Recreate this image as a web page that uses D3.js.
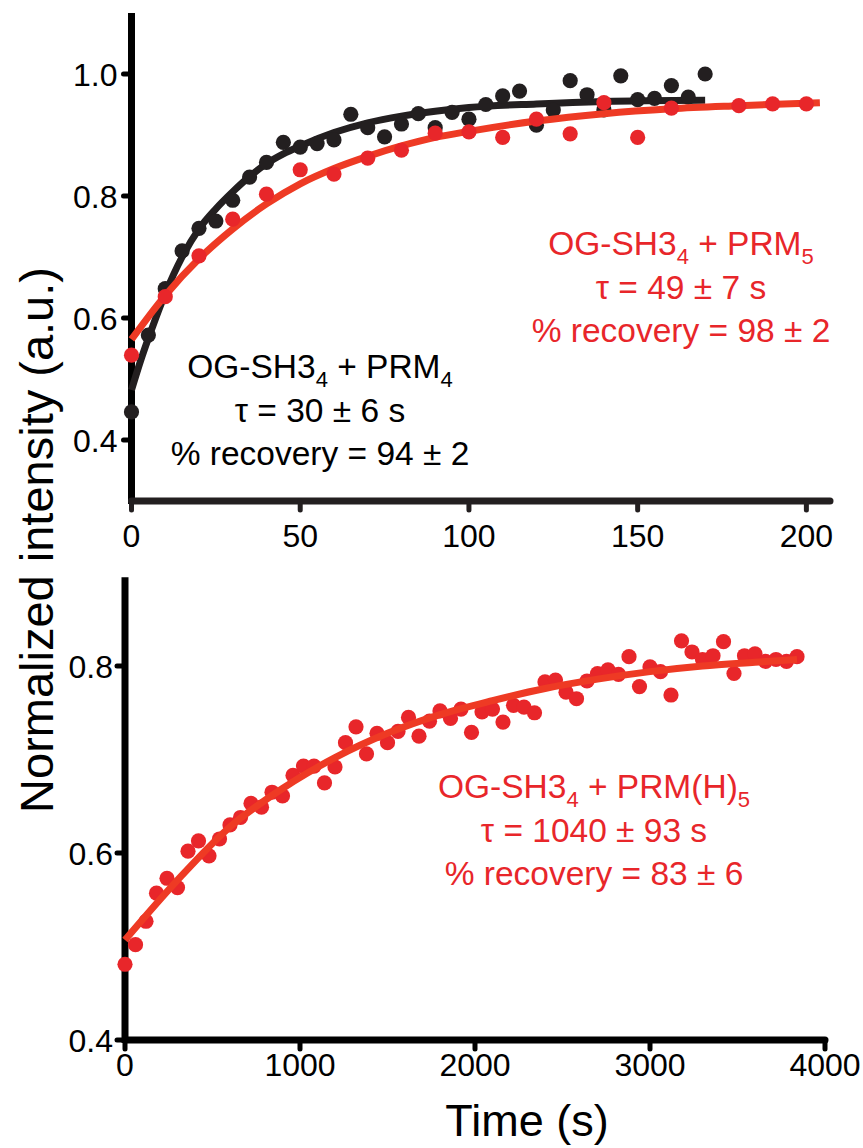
<!DOCTYPE html>
<html>
<head>
<meta charset="utf-8">
<script src="https://cdn.jsdelivr.net/npm/d3@7"></script>
<style>
  html, body { margin: 0; padding: 0; background: #fff; }
  svg { display: block; }
  text { font-family: "Liberation Sans", Arial, Helvetica, sans-serif; }
</style>
</head>
<body>
<svg id="chart" width="863" height="1148"></svg>
<script>
// ---------- DATA ----------
// Top panel: OG-SH3_4 + PRM_4 (black)
const blackTime = [0,5,10,15,20,25,30,35,40,45,50,55,60,65,70,75,80,85,90,95,100,105,110,115,120,125,130,135,140,145,150,155,160,165,170];
const blackValue = [0.446,0.572,0.648,0.710,0.747,0.759,0.793,0.831,0.855,0.888,0.880,0.886,0.892,0.934,0.912,0.897,0.918,0.935,0.912,0.937,0.926,0.950,0.964,0.972,0.916,0.941,0.989,0.966,0.941,0.997,0.958,0.960,0.981,0.962,1.000];
const blackFitTime = [0,3,6,10,15,20,25,30,35,40,45,50,60,70,80,90,100,120,140,170];
const blackFitValue = [0.482,0.535,0.582,0.640,0.700,0.746,0.779,0.807,0.832,0.853,0.869,0.882,0.904,0.920,0.931,0.939,0.945,0.951,0.955,0.957];

// Top panel: OG-SH3_4 + PRM_5 (red)
const redTime = [0,10,20,30,40,50,60,70,80,90,100,110,120,130,140,150,160,180,190,200];
const redValue = [0.539,0.635,0.702,0.762,0.803,0.843,0.836,0.862,0.875,0.903,0.905,0.896,0.926,0.902,0.953,0.896,0.944,0.948,0.951,0.951];
const redFitTime = [0,10,20,30,40,50,60,70,80,90,100,120,140,160,180,204];
const redFitValue = [0.565,0.637,0.697,0.746,0.787,0.820,0.845,0.865,0.882,0.896,0.906,0.923,0.935,0.943,0.948,0.953];

// Bottom panel: OG-SH3_4 + PRM(H)_5 (red)
const hisTime = [0,60,120,180,240,300,360,420,480,540,600,660,720,780,840,900,960,1020,1080,1140,1200,1260,1320,1380,1440,1500,1560,1620,1680,1740,1800,1860,1920,1980,2040,2100,2160,2220,2280,2340,2400,2460,2520,2580,2640,2700,2760,2820,2880,2940,3000,3060,3120,3180,3240,3300,3360,3420,3480,3540,3600,3660,3720,3780,3840];
const hisValue = [0.481,0.502,0.527,0.557,0.573,0.563,0.602,0.613,0.597,0.615,0.630,0.638,0.653,0.649,0.665,0.661,0.683,0.693,0.693,0.675,0.692,0.718,0.735,0.706,0.728,0.718,0.730,0.745,0.725,0.741,0.752,0.744,0.754,0.729,0.751,0.754,0.740,0.758,0.756,0.750,0.783,0.785,0.772,0.765,0.784,0.792,0.796,0.791,0.810,0.778,0.799,0.794,0.769,0.827,0.815,0.807,0.811,0.826,0.792,0.811,0.813,0.805,0.807,0.805,0.810];
const hisFitTime = [0,300,600,900,1200,1500,1800,2100,2400,2700,3000,3300,3600,3840];
const hisFitValue = [0.507,0.571,0.628,0.669,0.702,0.728,0.748,0.763,0.776,0.786,0.794,0.800,0.804,0.807];

// Tick labels
const topXTicks = [0,50,100,150,200];
const topYTicks = [0.4,0.6,0.8,1.0];
const botXTicks = [0,1000,2000,3000,4000];
const botYTicks = [0.4,0.6,0.8];

// Annotations
const topBlackLabel = [["OG-SH3", "4", " + PRM", "4"], ["τ = 30 ± 6 s"], ["% recovery = 94 ± 2"]];
const topRedLabel = [["OG-SH3", "4", " + PRM", "5"], ["τ = 49 ± 7 s"], ["% recovery = 98 ± 2"]];
const botRedLabel = [["OG-SH3", "4", " + PRM(H)", "5"], ["τ = 1040 ± 93 s"], ["% recovery = 83 ± 6"]];

// ---------- STYLE ----------
const BLACK = "#231f20";
const RED_DOT = "#e8262a";
const RED_LINE = "#ee3a24";
const RED_TEXT = "#e8262a";

const svg = d3.select("#chart");

function drawPanel(opt) {
  const g = svg.append("g");
  const x = d3.scaleLinear().domain(opt.xDomain).range(opt.xRange);
  const y = d3.scaleLinear().domain(opt.yDomain).range(opt.yRange);

  // axes lines
  g.append("line")
    .attr("x1", x(opt.xDomain[0])).attr("x2", x(opt.xDomain[0]))
    .attr("y1", y(opt.yDomain[1])).attr("y2", y(opt.yDomain[0]) + 3)
    .attr("stroke", "#000").attr("stroke-width", 7);
  g.append("line")
    .attr("x1", x(opt.xDomain[0])).attr("x2", x(opt.xDomain[1]))
    .attr("y1", y(opt.yDomain[0])).attr("y2", y(opt.yDomain[0]))
    .attr("stroke", opt.xAxisColor).attr("stroke-width", 7).attr("stroke-linecap", "round");

  // y ticks
  const yAxis = g.append("g");
  opt.yTicks.forEach(v => {
    yAxis.append("line")
      .attr("x1", x(opt.xDomain[0]) - 8).attr("x2", x(opt.xDomain[0]))
      .attr("y1", y(v)).attr("y2", y(v))
      .attr("stroke", "#000").attr("stroke-width", 5).attr("stroke-linecap", "round");
    yAxis.append("text")
      .attr("x", x(opt.xDomain[0]) - opt.yLabelGap).attr("y", y(v))
      .attr("dy", "0.36em").attr("text-anchor", "end")
      .attr("font-size", 32).attr("fill", "#000")
      .text(d3.format(".1f")(v));
  });
  // x ticks
  const xAxis = g.append("g");
  opt.xTicks.forEach(v => {
    xAxis.append("line")
      .attr("x1", x(v)).attr("x2", x(v))
      .attr("y1", y(opt.yDomain[0])).attr("y2", y(opt.yDomain[0]) + 9)
      .attr("stroke", opt.xAxisColor).attr("stroke-width", 5).attr("stroke-linecap", "round");
    xAxis.append("text")
      .attr("x", x(v)).attr("y", y(opt.yDomain[0]) + opt.xLabelGap)
      .attr("text-anchor", "middle")
      .attr("font-size", 32).attr("fill", "#000")
      .text(v);
  });

  const line = d3.line().x(d => x(d[0])).y(d => y(d[1])).curve(d3.curveMonotoneX);

  opt.layers.forEach(L => {
    if (L.type === "line") {
      g.append("path")
        .datum(d3.zip(L.t, L.v))
        .attr("d", line)
        .attr("fill", "none").attr("stroke", L.color)
        .attr("stroke-width", 7).attr("stroke-linecap", "butt");
    } else {
      g.append("g").selectAll("circle")
        .data(d3.zip(L.t, L.v))
        .join("circle")
        .attr("cx", d => x(d[0])).attr("cy", d => y(d[1]))
        .attr("r", 7.6).attr("fill", L.color);
    }
  });
  return { x, y };
}

// Top panel
drawPanel({
  xDomain: [0, 207], xRange: [131.5, 830],
  yDomain: [0.3, 1.1], yRange: [501, 13],
  xTicks: topXTicks, yTicks: topYTicks,
  xAxisColor: BLACK, yLabelGap: 14, xLabelGap: 46,
  layers: [
    { type: "line", t: blackFitTime, v: blackFitValue, color: BLACK },
    { type: "dots", t: blackTime, v: blackValue, color: BLACK },
    { type: "line", t: redFitTime, v: redFitValue, color: RED_LINE },
    { type: "dots", t: redTime, v: redValue, color: RED_DOT }
  ]
});

// Bottom panel
drawPanel({
  xDomain: [0, 4000], xRange: [125, 825],
  yDomain: [0.4, 0.895], yRange: [1040, 577.2],
  xTicks: botXTicks, yTicks: botYTicks,
  xAxisColor: "#000", yLabelGap: 12, xLabelGap: 36,
  layers: [
    { type: "dots", t: hisTime, v: hisValue, color: RED_DOT },
    { type: "line", t: hisFitTime, v: hisFitValue, color: RED_LINE }
  ]
});

// Annotations
function annotate(lines, cx, baseY, color) {
  lines.forEach((parts, i) => {
    const t = svg.append("text")
      .attr("x", cx).attr("y", baseY + i * 43.5)
      .attr("text-anchor", "middle")
      .attr("font-size", 33.5).attr("fill", color);
    parts.forEach((p, j) => {
      if (j % 2 === 1) {
        t.append("tspan").attr("font-size", 22).attr("dy", 9).text(p);
      } else {
        t.append("tspan").attr("dy", j === 0 ? 0 : -9).text(p);
      }
    });
  });
}
annotate(topBlackLabel, 320, 378, "#000");
annotate(topRedLabel, 681, 255, RED_TEXT);
annotate(botRedLabel, 594, 798, RED_TEXT);

// Axis titles
svg.append("text")
  .attr("transform", "translate(53,540) rotate(-90)")
  .attr("text-anchor", "middle")
  .attr("font-size", 47).attr("fill", "#000")
  .text("Normalized intensity (a.u.)");
svg.append("text")
  .attr("x", 527).attr("y", 1136)
  .attr("text-anchor", "middle")
  .attr("font-size", 45).attr("fill", "#000")
  .text("Time (s)");
</script>
</body>
</html>
